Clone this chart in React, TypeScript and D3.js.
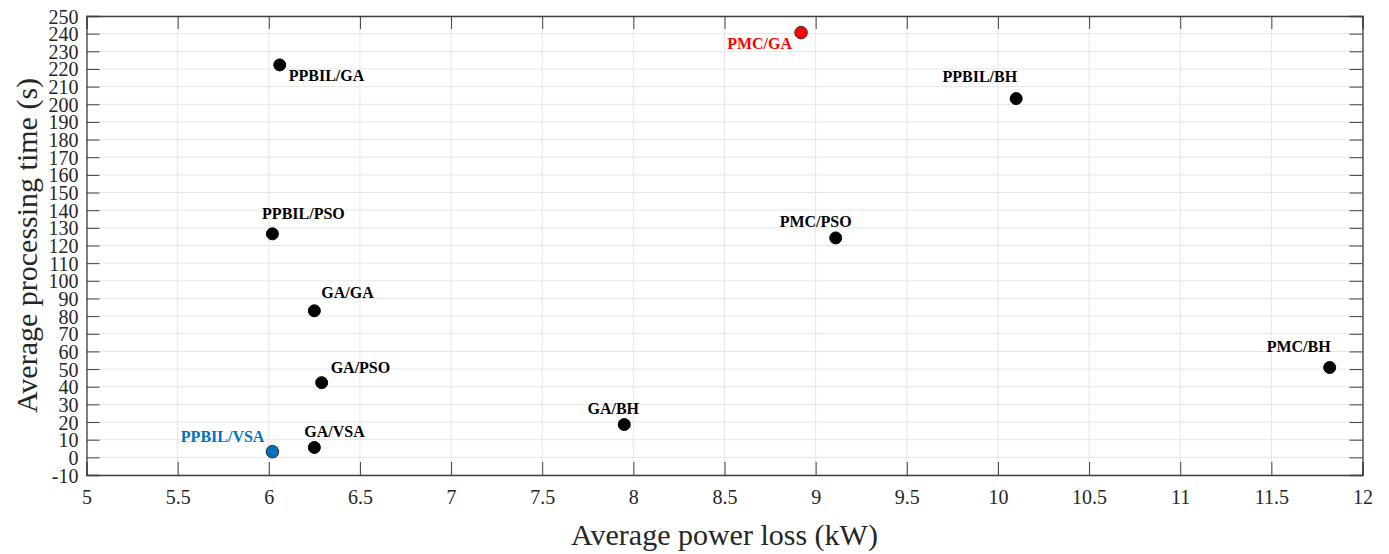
import { useEffect, useRef } from 'react';
import * as d3 from 'd3';

// method names, power loss (kW) and processing time (s)
const methods = ['PPBIL/VSA', 'GA/VSA', 'GA/PSO', 'GA/GA', 'PPBIL/PSO', 'PPBIL/GA', 'PMC/GA', 'PPBIL/BH', 'PMC/PSO', 'GA/BH', 'PMC/BH'];
const powerLoss = [6.02, 6.25, 6.29, 6.25, 6.02, 6.06, 8.92, 10.1, 9.11, 7.95, 11.82];
const procTime = [3.2, 5.6, 42.3, 83, 126.6, 222.3, 240.6, 203.2, 124.3, 18.6, 50.9];

const xTicks = [5, 5.5, 6, 6.5, 7, 7.5, 8, 8.5, 9, 9.5, 10, 10.5, 11, 11.5, 12];
const yTicks = d3.range(-10, 251, 10);

const highlight: Record<string, string> = { 'PPBIL/VSA': '#0072BD', 'PMC/GA': '#FF0000' };

// label placement relative to each point (px)
const labelPos: Record<string, [number, number, string]> = {
  'PPBIL/VSA': [-8, -10, 'end'],
  'GA/VSA': [-10, -10, 'start'],
  'GA/PSO': [9, -10, 'start'],
  'GA/GA': [7, -13, 'start'],
  'PPBIL/PSO': [31, -15, 'middle'],
  'PPBIL/GA': [9, 16, 'start'],
  'PMC/GA': [-9, 16, 'end'],
  'PPBIL/BH': [1, -17, 'end'],
  'PMC/PSO': [-20, -11, 'middle'],
  'GA/BH': [-11, -11, 'middle'],
  'PMC/BH': [1, -15, 'end'],
};

const W = 1389;
const H = 554;
const M = { left: 86.5, right: 26.5, top: 16, bottom: 79 };

export default function App() {
  const ref = useRef<SVGSVGElement>(null);

  useEffect(() => {
    if (!ref.current) return;
    const svg = d3.select(ref.current);
    svg.selectAll('*').remove();

    const x = d3.scaleLinear().domain([5, 12]).range([M.left, W - M.right]);
    const y = d3.scaleLinear().domain([-10, 250]).range([H - M.bottom, M.top]);
    const font = '"Liberation Serif", "Times New Roman", serif';

    svg.append('rect').attr('width', W).attr('height', H).attr('fill', '#fff');

    // grid
    const grid = svg.append('g').attr('stroke', '#e6e6e6').attr('stroke-width', 1);
    grid.selectAll('.gx').data(xTicks).enter().append('line')
      .attr('x1', (d) => x(d)).attr('x2', (d) => x(d))
      .attr('y1', y(-10)).attr('y2', y(250));
    grid.selectAll('.gy').data(yTicks).enter().append('line')
      .attr('x1', x(5)).attr('x2', x(12))
      .attr('y1', (d) => y(d)).attr('y2', (d) => y(d));

    // axes with inward ticks on all four sides
    const tickLen = 13;
    const axisCol = '#404040';
    const bottom = svg.append('g').attr('transform', `translate(0,${y(-10)})`)
      .call(d3.axisBottom(x).tickValues(xTicks).tickSize(-tickLen).tickPadding(tickLen + 2).tickFormat((d) => String(d)));
    const top = svg.append('g').attr('transform', `translate(0,${y(250)})`)
      .call(d3.axisTop(x).tickValues(xTicks).tickSize(-tickLen).tickFormat(() => ''));
    const left = svg.append('g').attr('transform', `translate(${x(5)},0)`)
      .call(d3.axisLeft(y).tickValues(yTicks).tickSize(-tickLen).tickPadding(8).tickFormat((d) => String(d)));
    const right = svg.append('g').attr('transform', `translate(${x(12)},0)`)
      .call(d3.axisRight(y).tickValues(yTicks).tickSize(-tickLen).tickFormat(() => ''));

    [bottom, top, left, right].forEach((g) => {
      g.select('.domain').attr('stroke', axisCol).attr('stroke-width', 1.3);
      g.selectAll('.tick line').attr('stroke', axisCol).attr('stroke-width', 1);
      g.selectAll('.tick text').attr('fill', '#262626').style('font-family', font).style('font-size', '20px');
    });
    left.selectAll('.tick text').attr('dy', '0.35em');
    bottom.selectAll('.tick text').attr('dy', '0.71em');

    // axis titles
    svg.append('text')
      .attr('x', (x(5) + x(12)) / 2).attr('y', 545)
      .attr('text-anchor', 'middle')
      .style('font-family', font).style('font-size', '30px').attr('fill', '#262626')
      .text('Average power loss (kW)');
    svg.append('text')
      .attr('transform', `translate(37,${(y(-10) + y(250)) / 2}) rotate(-90)`)
      .attr('text-anchor', 'middle')
      .style('font-family', font).style('font-size', '30px').attr('fill', '#262626')
      .text('Average processing time (s)');

    const pts = methods.map((m, i) => ({ name: m, px: powerLoss[i], pt: procTime[i] }));

    // points
    svg.selectAll('.pt').data(pts).enter().append('circle')
      .attr('cx', (d) => x(d.px)).attr('cy', (d) => y(d.pt))
      .attr('r', (d) => (highlight[d.name] ? 6.3 : 6))
      .attr('fill', (d) => highlight[d.name] || '#000')
      .attr('stroke', (d) => (highlight[d.name] ? '#333' : '#000'))
      .attr('stroke-width', 1);

    // labels
    svg.selectAll('.lbl').data(pts).enter().append('text')
      .attr('x', (d) => x(d.px) + labelPos[d.name][0])
      .attr('y', (d) => y(d.pt) + labelPos[d.name][1])
      .attr('text-anchor', (d) => labelPos[d.name][2])
      .style('font-family', font).style('font-size', '16px').style('font-weight', 'bold')
      .attr('fill', (d) => highlight[d.name] || '#000')
      .text((d) => d.name);
  }, []);

  return (
    <div style={{ position: 'fixed', left: 0, top: 0 }}>
      <svg ref={ref} width={W} height={H} />
    </div>
  );
}
